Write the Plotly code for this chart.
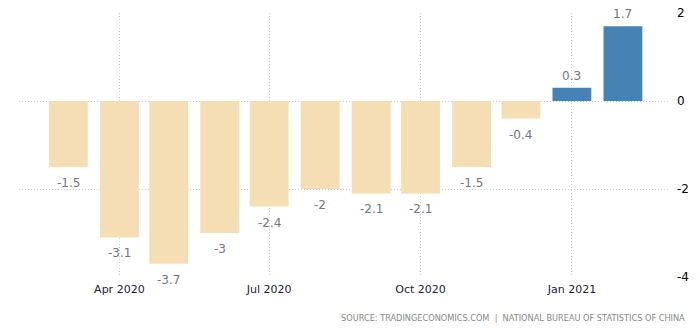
import plotly.graph_objects as go

months = ["2020-03-01", "2020-04-01", "2020-05-01", "2020-06-01", "2020-07-01", "2020-08-01",
          "2020-09-01", "2020-10-01", "2020-11-01", "2020-12-01", "2021-01-01", "2021-02-01"]
values = [-1.5, -3.1, -3.7, -3.0, -2.4, -2.0, -2.1, -2.1, -1.5, -0.4, 0.3, 1.7]
labels = ["-1.5", "-3.1", "-3.7", "-3", "-2.4", "-2", "-2.1", "-2.1", "-1.5", "-0.4", "0.3", "1.7"]
tick_vals = ["2020-04-01", "2020-07-01", "2020-10-01", "2021-01-01"]
tick_text = ["Apr 2020", "Jul 2020", "Oct 2020", "Jan 2021"]
y_ticks = [-4, -2, 0, 2]
source_text = "SOURCE: TRADINGECONOMICS.COM\u00a0\u00a0|\u00a0\u00a0NATIONAL BUREAU OF STATISTICS OF CHINA"

POS = "#4682B4"
NEG = "#F5DEB3"
colors = [POS if v >= 0 else NEG for v in values]

fig = go.Figure()
fig.add_trace(go.Bar(
    x=months, y=values, marker=dict(color=colors, line=dict(width=0)),
    width=23.6 * 86400000, hoverinfo="skip",
))

for m, v, t in zip(months, values, labels):
    fig.add_annotation(
        x=m, y=v, text=t, showarrow=False,
        yanchor="bottom" if v >= 0 else "top",
        yshift=3 if v >= 0 else -7,
        font=dict(family="DejaVu Sans", size=12, color="#737380"),
    )

# right-side y tick labels
for yt in y_ticks:
    fig.add_annotation(
        xref="paper", yref="y", x=1, y=yt, text=str(yt), showarrow=False,
        xanchor="left", yanchor="middle", xshift=6,
        font=dict(family="DejaVu Sans", size=12, color="#000000"),
    )

fig.add_annotation(
    xref="paper", yref="paper", x=1.028, y=-0.155, xanchor="right", yanchor="middle",
    text=source_text,
    showarrow=False, font=dict(family="DejaVu Sans", size=8.2, color="#888888"),
)

fig.update_layout(
    width=698, height=332,
    margin=dict(l=19, r=29, t=13, b=55, autoexpand=False),
    paper_bgcolor="white", plot_bgcolor="white",
    showlegend=False,
    xaxis=dict(
        type="date", range=["2020-01-31", "2021-03-01"],
        tickvals=tick_vals, ticktext=tick_text, automargin=False,
        showgrid=True, gridcolor="#cccccc", griddash="1px,2px", gridwidth=1,
        zeroline=False, showline=False, ticks="", ticklabelstandoff=4,
        tickfont=dict(family="DejaVu Sans", size=11, color="#1a1a3a"),
    ),
    yaxis=dict(
        side="right", range=[-4, 2], tickvals=y_ticks, automargin=False,
        showticklabels=False,
        showgrid=True, gridcolor="#cccccc", griddash="1px,2px", gridwidth=1,
        zeroline=False, showline=False, ticks="",
    ),
)

fig.write_html("out.html")
